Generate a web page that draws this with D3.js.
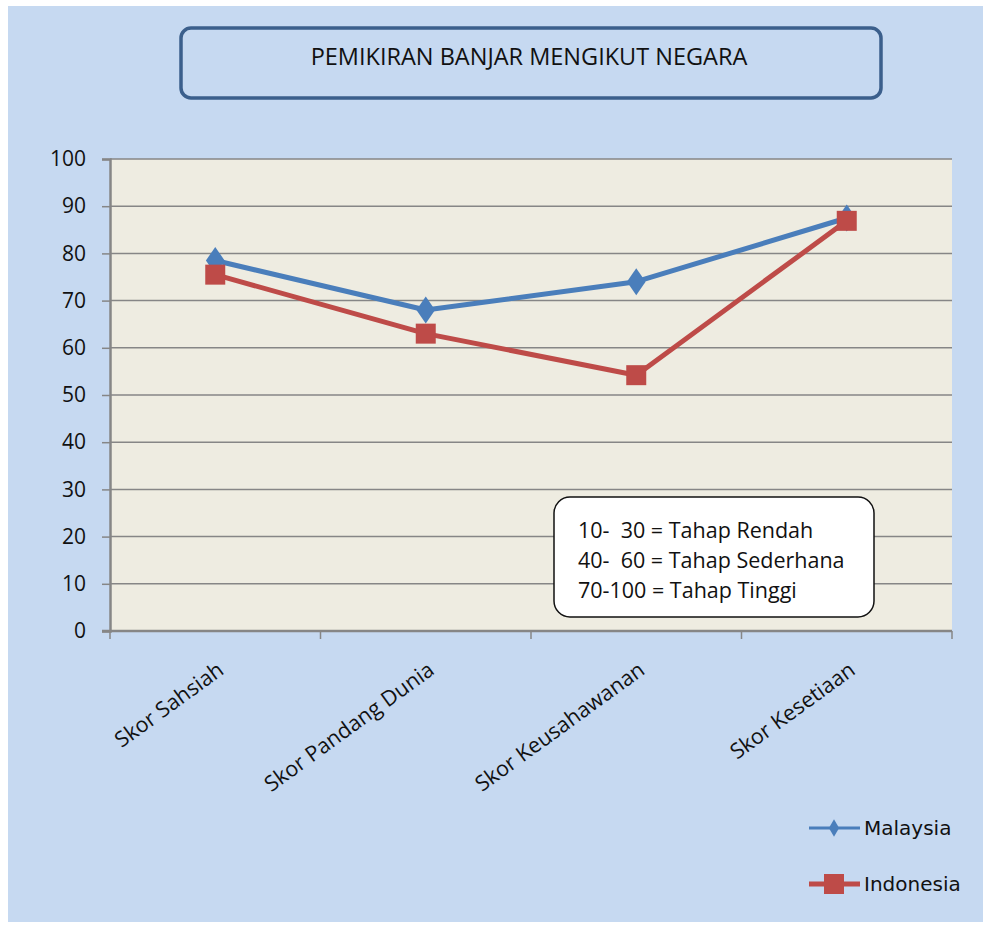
<!DOCTYPE html>
<html>
<head>
<meta charset="utf-8">
<script src="https://cdn.jsdelivr.net/npm/d3@7"></script>
<style>
  body { margin: 0; background: #fff; }
</style>
</head>
<body>
<div id="chart"></div>
<script>
// data
var categories = ['Skor Sahsiah', 'Skor Pandang Dunia', 'Skor Keusahawanan', 'Skor Kesetiaan'];
var malaysia = [78.5, 68, 74, 87.5];
var indonesia = [75.5, 63, 54.2, 86.9];
var yTicks = [0, 10, 20, 30, 40, 50, 60, 70, 80, 90, 100];
var notes = ['10-  30 = Tahap Rendah', '40-  60 = Tahap Sederhana', '70-100 = Tahap Tinggi'];

var W = 990, H = 928;
var plot = { left: 110, right: 952, top: 159, bottom: 631 };
var font = 'Open Sans, Noto Sans, sans-serif';

var svg = d3.select('#chart').append('svg')
  .attr('width', W)
  .attr('height', H)
  .style('font-family', font);

// chart area background
svg.append('rect')
  .attr('x', 8).attr('y', 6)
  .attr('width', 975).attr('height', 916)
  .attr('fill', '#c6d9f1');

// title box
svg.append('rect')
  .attr('x', 181).attr('y', 28)
  .attr('width', 700).attr('height', 70)
  .attr('rx', 10)
  .attr('fill', '#c6d9f1')
  .attr('stroke', '#3b5f8c')
  .attr('stroke-width', 3.5);

svg.append('text')
  .attr('x', 529).attr('y', 65)
  .attr('text-anchor', 'middle')
  .attr('font-size', 23.5)
  .attr('fill', '#111')
  .text('PEMIKIRAN BANJAR MENGIKUT NEGARA');

var x = d3.scaleBand().domain(categories).range([plot.left, plot.right]);
var y = d3.scaleLinear().domain([0, 100]).range([plot.bottom, plot.top]);

// plot area
svg.append('rect')
  .attr('x', plot.left).attr('y', plot.top)
  .attr('width', plot.right - plot.left).attr('height', plot.bottom - plot.top)
  .attr('fill', '#eeece1');

// gridlines
svg.append('g').selectAll('line')
  .data(yTicks.filter(function(d) { return d > 0; }))
  .enter().append('line')
  .attr('x1', plot.left).attr('x2', plot.right)
  .attr('y1', function(d) { return y(d); })
  .attr('y2', function(d) { return y(d); })
  .attr('stroke', '#868686')
  .attr('stroke-width', 1.5);

// y axis
var yAxis = d3.axisLeft(y).tickValues(yTicks).tickSize(8).tickPadding(16);
var gy = svg.append('g')
  .attr('transform', 'translate(' + plot.left + ',0)')
  .call(yAxis);
gy.attr('font-family', null).attr('font-size', null);
gy.select('.domain').attr('stroke', '#868686').attr('stroke-width', 2.5);
gy.selectAll('.tick line').attr('stroke', '#868686').attr('stroke-width', 1.5);
gy.selectAll('.tick text')
  .attr('font-size', 21)
  .attr('fill', '#111');

// x axis
var xAxis = d3.axisBottom(x).tickSize(0).tickFormat('');
var gx = svg.append('g')
  .attr('transform', 'translate(0,' + plot.bottom + ')')
  .call(xAxis);
gx.select('.domain').attr('stroke', '#868686').attr('stroke-width', 2.5)
  .attr('d', 'M' + (plot.left - 8) + ',0H' + plot.right);

// tick marks between categories
var bounds = categories.map(function(c) { return x(c); }).concat([plot.right]);
gx.append('g').selectAll('line')
  .data(bounds)
  .enter().append('line')
  .attr('x1', function(d) { return d; }).attr('x2', function(d) { return d; })
  .attr('y1', 0).attr('y2', 8)
  .attr('stroke', '#868686')
  .attr('stroke-width', 1.5);

// rotated category labels
svg.append('g').selectAll('text')
  .data(categories)
  .enter().append('text')
  .attr('transform', function(d) {
    return 'translate(' + (x(d) + x.bandwidth() / 2 + 10) + ',' + (plot.bottom + 42) + ') rotate(-36)';
  })
  .attr('text-anchor', 'end')
  .attr('font-size', 21.5)
  .attr('fill', '#111')
  .text(function(d) { return d; });

var cx = function(d, i) { return x(categories[i]) + x.bandwidth() / 2; };
var line = d3.line()
  .x(function(d, i) { return cx(d, i); })
  .y(function(d) { return y(d); });

var blue = '#4a7ebb', red = '#be4b48';

// Malaysia
svg.append('path')
  .attr('d', line(malaysia))
  .attr('fill', 'none')
  .attr('stroke', blue)
  .attr('stroke-width', 5)
  .attr('stroke-linejoin', 'round');
svg.append('g').selectAll('path')
  .data(malaysia)
  .enter().append('path')
  .attr('d', d3.symbol().type(d3.symbolDiamond).size(210))
  .attr('transform', function(d, i) { return 'translate(' + cx(d, i) + ',' + y(d) + ') scale(1.2,1)'; })
  .attr('fill', blue);

// Indonesia
svg.append('path')
  .attr('d', line(indonesia))
  .attr('fill', 'none')
  .attr('stroke', red)
  .attr('stroke-width', 5)
  .attr('stroke-linejoin', 'round');
svg.append('g').selectAll('rect')
  .data(indonesia)
  .enter().append('rect')
  .attr('x', function(d, i) { return cx(d, i) - 10; })
  .attr('y', function(d) { return y(d) - 10; })
  .attr('width', 20).attr('height', 20)
  .attr('fill', red);

// note box
svg.append('rect')
  .attr('x', 554).attr('y', 497)
  .attr('width', 320).attr('height', 120)
  .attr('rx', 16)
  .attr('fill', '#fff')
  .attr('stroke', '#111')
  .attr('stroke-width', 1.5);

svg.append('g').selectAll('text')
  .data(notes)
  .enter().append('text')
  .attr('x', 578)
  .attr('y', function(d, i) { return 538 + i * 30; })
  .attr('font-size', 21.5)
  .attr('fill', '#111')
  .style('white-space', 'pre')
  .text(function(d) { return d; });

// legend
var legend = [
  { name: 'Malaysia', color: blue, y: 828, shape: 'diamond' },
  { name: 'Indonesia', color: red, y: 884, shape: 'square' }
];
var lg = svg.append('g').selectAll('g')
  .data(legend)
  .enter().append('g')
  .attr('transform', function(d) { return 'translate(0,' + d.y + ')'; });
lg.append('line')
  .attr('x1', 809).attr('x2', 860)
  .attr('y1', 0).attr('y2', 0)
  .attr('stroke', function(d) { return d.color; })
  .attr('stroke-width', function(d) { return d.shape === 'square' ? 5 : 3; });
lg.append('path')
  .attr('d', function(d) {
    return d.shape === 'square'
      ? d3.symbol().type(d3.symbolSquare).size(400)()
      : d3.symbol().type(d3.symbolDiamond).size(90)();
  })
  .attr('transform', 'translate(834,0)')
  .attr('fill', function(d) { return d.color; });
lg.append('text')
  .attr('x', 864).attr('y', 7)
  .attr('font-size', 20)
  .attr('fill', '#111')
  .style('font-family', 'DejaVu Sans, sans-serif')
  .text(function(d) { return d.name; });
</script>
</body>
</html>
